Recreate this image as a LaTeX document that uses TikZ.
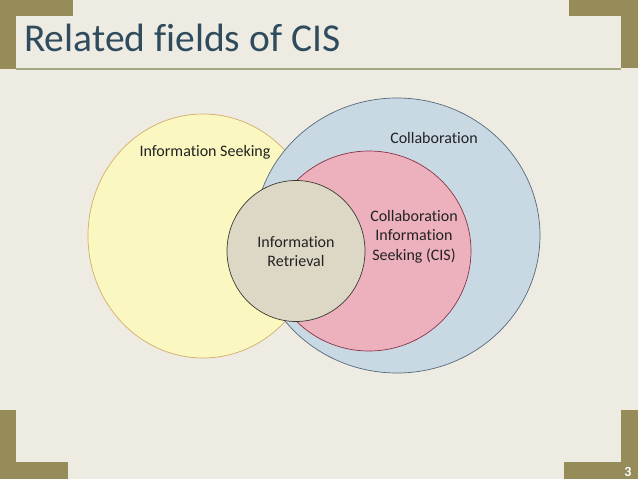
\documentclass[tikz,border=0pt]{standalone}
\usepackage{fontspec}
\setmainfont[Ligatures=NoCommon]{Carlito}
\definecolor{bg}{HTML}{EEEBE3}
\definecolor{olive}{HTML}{968C5A}
\definecolor{titlec}{HTML}{2F4B5E}
\definecolor{rulec}{HTML}{A3A97E}
\definecolor{yelf}{HTML}{FAF7C0}
\definecolor{yeld}{HTML}{D2AF6A}
\definecolor{bluf}{HTML}{C9D9E4}
\definecolor{blud}{HTML}{56697A}
\definecolor{pinf}{HTML}{EDB1BD}
\definecolor{pind}{HTML}{8A3446}
\definecolor{tanf}{HTML}{DDD8C6}
\definecolor{tand}{HTML}{3A3A30}
\definecolor{txt}{HTML}{222222}
\tikzset{
  deco/.style={fill=olive, draw=none},
  lbl/.style={text=txt, font=\fontsize{16}{19.5}\selectfont, align=center, inner sep=0pt},
}
\begin{document}
\begin{tikzpicture}[x=1pt,y=-1pt]
\fill[bg] (0,0) rectangle (638,479);
\useasboundingbox (0,0) rectangle (638,479);
% corner decorations
\fill[deco] (0,0) rectangle (73,16);
\fill[deco] (0,0) rectangle (16,69);
\fill[deco] (569,0) rectangle (638,16);
\fill[deco] (621,0) rectangle (638,68);
\fill[deco] (0,410) rectangle (16,479);
\fill[deco] (0,462) rectangle (68,479);
\fill[deco] (621,410) rectangle (638,479);
\fill[deco] (564,462) rectangle (638,479);
\draw[rulec, line width=1.2pt] (16,69) -- (621,69);
% title
\node[anchor=base west, text=titlec, font=\fontsize{39.5}{42}\selectfont, inner sep=0pt] (title) at (24,52) {Related fields of CIS};
\node[anchor=base, text=white, font=\bfseries\fontsize{14}{16}\selectfont, inner sep=0pt] (pg) at (628,476.5) {3};
% circles
\fill[yelf, draw=yeld, line width=0.7pt] (203,236) ellipse [x radius=115, y radius=122];
\fill[bluf, draw=blud, line width=0.7pt] (397,235.5) ellipse [x radius=143, y radius=137.5];
\fill[pinf, draw=pind, line width=0.7pt] (369,251) ellipse [x radius=102, y radius=100];
\fill[tanf, draw=tand, line width=0.7pt] (296,251) ellipse [x radius=69, y radius=70.5];
% labels
\node[lbl] (is) at (205,152) {Information Seeking};
\node[lbl] (co) at (434,138) {Collaboration};
\node[lbl] (cis) at (414,236.5) {Collaboration\\Information\\Seeking (CIS)};
\node[lbl] (ir) at (296,251.5) {Information\\Retrieval};
\end{tikzpicture}
\end{document}
